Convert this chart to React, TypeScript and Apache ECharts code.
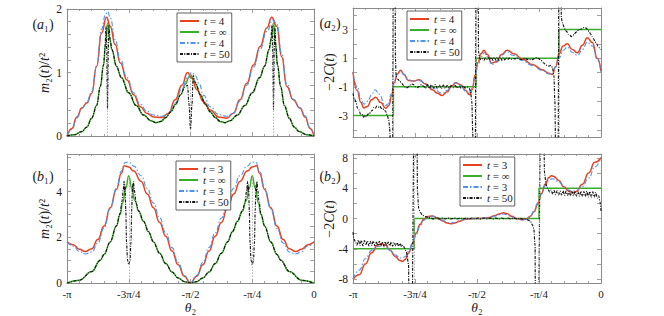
import React, { useEffect, useRef } from "react";
import * as echarts from "echarts";

type Pt = [number, number];

const SERIF = "'Liberation Serif', 'Times New Roman', 'DejaVu Serif', serif";
const TEXT = "#1a1a1a";
const FRAME = "#8a8a8a";

// x in units of pi
const X_TICK_VALUES = [-1, -0.75, -0.5, -0.25, 0];
const X_TICK_LABELS = ["-π", "-3π/4", "-π/2", "-π/4", "0"];

const A1_Y_LABELS = [0, 1, 2];
const A1_Y_TICKS = [0, 0.2, 0.4, 0.6, 0.8, 1, 1.2, 1.4, 1.6, 1.8, 2];
const A2_Y_LABELS = [-3, -1, 1, 3];
const A2_Y_TICKS = [-4, -3, -2, -1, 0, 1, 2, 3, 4];
const B1_Y_LABELS = [0, 2, 4];
const B1_Y_TICKS = [0, 0.5, 1, 1.5, 2, 2.5, 3, 3.5, 4, 4.5, 5, 5.5];
const B2_Y_LABELS = [-8, -4, 0, 4, 8];
const B2_Y_TICKS = [-8, -6, -4, -2, 0, 2, 4, 6, 8];

const LEGEND_A = ["{i|t} = 4", "{i|t} = ∞", "{i|t} = 4", "{i|t} = 50"];
const LEGEND_B = ["{i|t} = 3", "{i|t} = ∞", "{i|t} = 3", "{i|t} = 50"];

// ---------- panel a1 ----------
const A1_RED: Pt[] = [[-1,0],[-0.98,0.12],[-0.96,0.3],[-0.94,0.44],[-0.92,0.52],[-0.9,0.67],[-0.88,1.1],[-0.86,1.62],[-0.84,1.87],[-0.825,1.73],[-0.805,1.44],[-0.784,1.15],[-0.757,0.88],[-0.73,0.65],[-0.703,0.46],[-0.677,0.36],[-0.65,0.3],[-0.616,0.29],[-0.589,0.36],[-0.562,0.57],[-0.535,0.8],[-0.512,1.0],[-0.495,0.91],[-0.474,0.73],[-0.447,0.54],[-0.42,0.41],[-0.387,0.3],[-0.353,0.28],[-0.326,0.36],[-0.3,0.57],[-0.272,0.83],[-0.245,1.12],[-0.218,1.41],[-0.191,1.7],[-0.171,1.87],[-0.151,1.73],[-0.131,1.25],[-0.11,0.78],[-0.084,0.57],[-0.057,0.44],[-0.036,0.3],[-0.016,0.12],[0,0]];
const A1_GREEN: Pt[] = [[-1,0],[-0.97,0.02],[-0.94,0.07],[-0.92,0.14],[-0.9,0.28],[-0.88,0.48],[-0.865,0.78],[-0.852,1.12],[-0.843,1.48],[-0.836,1.78],[-0.828,1.55],[-0.818,1.36],[-0.8,1.1],[-0.78,0.92],[-0.75,0.68],[-0.72,0.48],[-0.69,0.33],[-0.66,0.24],[-0.64,0.21],[-0.62,0.23],[-0.6,0.29],[-0.58,0.38],[-0.56,0.5],[-0.54,0.65],[-0.52,0.82],[-0.507,0.92],[-0.5,0.97],[-0.493,0.92],[-0.48,0.82],[-0.46,0.65],[-0.44,0.5],[-0.42,0.38],[-0.4,0.29],[-0.38,0.23],[-0.36,0.21],[-0.34,0.24],[-0.31,0.33],[-0.28,0.48],[-0.25,0.68],[-0.22,0.92],[-0.2,1.1],[-0.182,1.36],[-0.172,1.55],[-0.164,1.78],[-0.157,1.48],[-0.148,1.12],[-0.135,0.78],[-0.12,0.48],[-0.1,0.28],[-0.08,0.14],[-0.06,0.07],[-0.03,0.02],[0,0]];
const A1_BLUE: Pt[] = [[-1,0],[-0.98,0.1],[-0.96,0.28],[-0.94,0.43],[-0.92,0.53],[-0.9,0.7],[-0.88,1.1],[-0.86,1.68],[-0.845,1.9],[-0.835,1.96],[-0.825,1.86],[-0.805,1.52],[-0.784,1.2],[-0.757,0.92],[-0.73,0.68],[-0.703,0.5],[-0.677,0.39],[-0.65,0.33],[-0.616,0.31],[-0.589,0.36],[-0.562,0.52],[-0.535,0.74],[-0.512,0.92],[-0.495,1.0],[-0.48,0.95],[-0.465,0.82],[-0.447,0.64],[-0.42,0.46],[-0.387,0.34],[-0.353,0.31],[-0.326,0.36],[-0.3,0.55],[-0.272,0.8],[-0.245,1.08],[-0.218,1.37],[-0.191,1.65],[-0.166,1.83],[-0.15,1.76],[-0.131,1.3],[-0.11,0.82],[-0.084,0.58],[-0.057,0.45],[-0.036,0.32],[-0.016,0.13],[0,0]];
const A1_BLACK: Pt[] = [[-1,0],[-0.97,0.02],[-0.94,0.07],[-0.92,0.14],[-0.9,0.28],[-0.88,0.48],[-0.865,0.78],[-0.852,1.12],[-0.846,1.4],[-0.842,1.72],[-0.839,1.35],[-0.837,0.7],[-0.836,0.42],[-0.835,0.7],[-0.833,1.35],[-0.83,1.74],[-0.825,1.5],[-0.818,1.36],[-0.8,1.1],[-0.78,0.92],[-0.75,0.68],[-0.72,0.48],[-0.69,0.33],[-0.66,0.24],[-0.64,0.21],[-0.62,0.23],[-0.6,0.29],[-0.58,0.38],[-0.56,0.5],[-0.54,0.65],[-0.525,0.76],[-0.512,0.8],[-0.506,0.5],[-0.5,0.1],[-0.494,0.5],[-0.489,0.95],[-0.48,0.84],[-0.46,0.65],[-0.44,0.5],[-0.42,0.38],[-0.4,0.29],[-0.38,0.23],[-0.36,0.21],[-0.34,0.24],[-0.31,0.33],[-0.28,0.48],[-0.25,0.68],[-0.22,0.92],[-0.2,1.1],[-0.182,1.36],[-0.175,1.5],[-0.17,1.74],[-0.167,1.35],[-0.165,0.7],[-0.164,0.42],[-0.163,0.7],[-0.161,1.35],[-0.158,1.72],[-0.154,1.4],[-0.148,1.12],[-0.135,0.78],[-0.12,0.48],[-0.1,0.28],[-0.08,0.14],[-0.06,0.07],[-0.03,0.02],[0,0]];
const A1_GUIDES: Pt[] = [[-0.836,1.78],[-0.5,0.97],[-0.164,1.78]];

// ---------- panel a2 ----------
const A2_RED: Pt[] = [[-1,0.02],[-0.983,-1.26],[-0.969,-2.07],[-0.956,-2.47],[-0.942,-2.37],[-0.925,-1.9],[-0.909,-1.72],[-0.888,-2.1],[-0.868,-2.5],[-0.855,-2.3],[-0.844,-1.6],[-0.833,-0.7],[-0.821,-0.1],[-0.808,0.15],[-0.794,-0.15],[-0.777,-0.55],[-0.754,-0.6],[-0.734,-0.5],[-0.707,-0.8],[-0.68,-1.2],[-0.66,-1.45],[-0.64,-1.6],[-0.62,-1.35],[-0.602,-0.95],[-0.586,-0.72],[-0.566,-0.85],[-0.546,-1.25],[-0.53,-1.55],[-0.519,-1.2],[-0.508,-0.2],[-0.496,0.7],[-0.484,1.3],[-0.472,1.55],[-0.458,1.25],[-0.441,0.65],[-0.422,0.75],[-0.401,1.25],[-0.378,1.55],[-0.351,1.3],[-0.317,0.95],[-0.277,0.55],[-0.237,0.2],[-0.21,-0.05],[-0.196,-0.14],[-0.183,0.4],[-0.169,1.3],[-0.153,1.85],[-0.136,2.0],[-0.116,1.6],[-0.095,1.37],[-0.075,1.9],[-0.055,2.42],[-0.035,2.1],[-0.015,1.0],[0,0.1]];
const A2_GREEN: Pt[] = [[-1,-3],[-0.837,-3],[-0.837,-1],[-0.503,-1],[-0.503,1],[-0.169,1],[-0.169,3],[0,3]];
const A2_BLUE: Pt[] = [[-1,0.05],[-0.983,-1.0],[-0.969,-1.8],[-0.956,-2.2],[-0.94,-2.0],[-0.925,-1.55],[-0.911,-1.2],[-0.895,-1.5],[-0.87,-2.3],[-0.858,-2.2],[-0.846,-1.5],[-0.834,-0.6],[-0.822,-0.1],[-0.81,0.1],[-0.796,-0.1],[-0.779,-0.5],[-0.757,-0.6],[-0.734,-0.55],[-0.707,-0.8],[-0.68,-1.1],[-0.64,-1.45],[-0.62,-1.25],[-0.6,-0.9],[-0.584,-0.72],[-0.566,-0.9],[-0.546,-1.3],[-0.532,-1.45],[-0.52,-1.1],[-0.508,-0.3],[-0.496,0.5],[-0.484,1.1],[-0.47,1.4],[-0.458,1.1],[-0.44,0.55],[-0.421,0.7],[-0.4,1.2],[-0.38,1.45],[-0.355,1.2],[-0.32,0.85],[-0.277,0.5],[-0.237,0.15],[-0.21,-0.1],[-0.196,-0.05],[-0.183,0.4],[-0.169,1.0],[-0.153,1.55],[-0.136,1.77],[-0.116,1.4],[-0.095,1.19],[-0.075,1.6],[-0.055,2.12],[-0.035,1.85],[-0.015,0.9],[0,0.02]];
const A2_BLACK: Pt[] = [[-1,-1.45],[-0.994,-1.85],[-0.988,-2.05],[-0.982,-2.5],[-0.976,-2.6],[-0.97,-2.9],[-0.964,-2.9],[-0.958,-3.12],[-0.952,-3.0],[-0.946,-3.1],[-0.94,-2.9],[-0.934,-2.9],[-0.928,-2.7],[-0.922,-2.65],[-0.916,-2.45],[-0.91,-2.5],[-0.904,-2.35],[-0.898,-2.42],[-0.892,-2.35],[-0.886,-2.5],[-0.88,-2.5],[-0.874,-2.65],[-0.868,-2.7],[-0.862,-3.0],[-0.856,-3.3],[-0.852,-3.9],[-0.849,-6],[-0.846,-30],[-0.832,30],[-0.829,1.0],[-0.826,-0.25],[-0.82,-0.45],[-0.812,-0.6],[-0.804,-0.75],[-0.796,-0.9],[-0.788,-1.05],[-0.78,-1.05],[-0.772,-0.9],[-0.764,-0.8],[-0.756,-0.85],[-0.748,-1.0],[-0.74,-1.05],[-0.732,-0.95],[-0.724,-0.85],[-0.716,-0.95],[-0.708,-1.1],[-0.7,-0.85],[-0.692,-1.1],[-0.684,-0.85],[-0.676,-1.1],[-0.668,-0.85],[-0.66,-1.12],[-0.652,-0.88],[-0.644,-1.12],[-0.636,-0.88],[-0.628,-1.1],[-0.62,-0.9],[-0.612,-1.08],[-0.604,-0.92],[-0.596,-1.05],[-0.588,-0.92],[-0.58,-1.08],[-0.572,-0.95],[-0.564,-1.1],[-0.556,-0.95],[-0.548,-1.08],[-0.54,-1.0],[-0.532,-1.1],[-0.526,-1.3],[-0.521,-2.0],[-0.517,-4.2],[-0.514,-30],[-0.497,30],[-0.494,1.5],[-0.49,1.0],[-0.484,0.9],[-0.478,0.95],[-0.472,0.85],[-0.466,1.0],[-0.46,0.92],[-0.454,1.05],[-0.448,0.9],[-0.442,1.05],[-0.436,0.85],[-0.43,1.05],[-0.424,0.85],[-0.418,1.05],[-0.412,0.85],[-0.406,1.05],[-0.4,0.85],[-0.394,1.05],[-0.388,0.87],[-0.382,1.03],[-0.376,0.9],[-0.37,1.0],[-0.362,0.92],[-0.354,0.98],[-0.346,0.95],[-0.338,1.0],[-0.33,0.95],[-0.322,0.9],[-0.314,0.95],[-0.306,1.0],[-0.298,0.92],[-0.29,0.95],[-0.282,0.88],[-0.274,0.92],[-0.266,1.0],[-0.258,1.05],[-0.25,0.95],[-0.242,0.85],[-0.234,0.7],[-0.226,0.6],[-0.218,0.5],[-0.21,0.45],[-0.202,0.5],[-0.196,0.35],[-0.19,-0.2],[-0.186,-2.0],[-0.183,-5.5],[-0.18,-30],[-0.163,30],[-0.16,3.8],[-0.155,3.45],[-0.15,3.2],[-0.144,2.95],[-0.138,2.85],[-0.132,2.65],[-0.126,2.6],[-0.12,2.5],[-0.114,2.6],[-0.108,2.65],[-0.102,2.8],[-0.096,2.85],[-0.09,3.0],[-0.084,3.0],[-0.078,3.05],[-0.072,3.12],[-0.066,3.15],[-0.06,3.1],[-0.054,3.0],[-0.048,2.85],[-0.042,2.7],[-0.036,2.5],[-0.03,2.35],[-0.024,2.15],[-0.018,2.0],[-0.012,1.85],[-0.006,1.72],[0,1.6]];
const A2_GUIDES: number[] = [-0.837, -0.503, -0.169];

// ---------- panel b1 ----------
const B1_RED: Pt[] = [[-1,1.8],[-0.975,1.68],[-0.95,1.48],[-0.926,1.38],[-0.9,1.5],[-0.875,1.9],[-0.85,2.5],[-0.825,3.3],[-0.8,4.1],[-0.78,4.8],[-0.768,5.13],[-0.75,5.08],[-0.73,4.9],[-0.7,4.45],[-0.675,3.9],[-0.65,3.3],[-0.625,2.65],[-0.6,2.05],[-0.575,1.4],[-0.55,0.8],[-0.525,0.3],[-0.5,0],[-0.475,0.3],[-0.45,0.8],[-0.425,1.4],[-0.4,2.05],[-0.375,2.65],[-0.35,3.3],[-0.325,3.9],[-0.3,4.45],[-0.27,4.9],[-0.25,5.08],[-0.232,5.13],[-0.22,4.8],[-0.2,4.1],[-0.175,3.3],[-0.15,2.5],[-0.125,1.9],[-0.1,1.5],[-0.074,1.38],[-0.05,1.48],[-0.025,1.68],[0,1.8]];
const B1_GREEN: Pt[] = [[-1,0],[-0.95,0.12],[-0.9,0.5],[-0.865,1.0],[-0.85,1.25],[-0.825,1.8],[-0.8,2.5],[-0.785,3.0],[-0.775,3.5],[-0.762,4.15],[-0.75,4.7],[-0.738,4.15],[-0.725,3.6],[-0.71,3.15],[-0.69,2.7],[-0.67,2.25],[-0.65,1.8],[-0.625,1.3],[-0.6,0.85],[-0.575,0.48],[-0.55,0.22],[-0.525,0.06],[-0.5,0],[-0.475,0.06],[-0.45,0.22],[-0.425,0.48],[-0.4,0.85],[-0.375,1.3],[-0.35,1.8],[-0.33,2.25],[-0.31,2.7],[-0.29,3.15],[-0.275,3.6],[-0.262,4.15],[-0.25,4.7],[-0.238,4.15],[-0.225,3.5],[-0.215,3.0],[-0.2,2.5],[-0.175,1.8],[-0.15,1.25],[-0.135,1.0],[-0.1,0.5],[-0.05,0.12],[0,0]];
const B1_BLUE: Pt[] = [[-1,1.8],[-0.975,1.62],[-0.95,1.38],[-0.926,1.27],[-0.9,1.36],[-0.875,1.75],[-0.85,2.4],[-0.825,3.25],[-0.8,4.15],[-0.78,4.9],[-0.765,5.28],[-0.75,5.3],[-0.73,5.12],[-0.7,4.7],[-0.675,4.15],[-0.65,3.5],[-0.625,2.85],[-0.6,2.2],[-0.575,1.55],[-0.55,0.9],[-0.525,0.33],[-0.5,0],[-0.475,0.33],[-0.45,0.9],[-0.425,1.55],[-0.4,2.2],[-0.375,2.85],[-0.35,3.5],[-0.325,4.15],[-0.3,4.7],[-0.27,5.12],[-0.25,5.3],[-0.235,5.28],[-0.22,4.9],[-0.2,4.15],[-0.175,3.25],[-0.15,2.4],[-0.125,1.75],[-0.1,1.36],[-0.074,1.27],[-0.05,1.38],[-0.025,1.62],[0,1.8]];
const B1_BLACK: Pt[] = [[-1,0],[-0.95,0.12],[-0.9,0.5],[-0.865,1.0],[-0.85,1.25],[-0.825,1.8],[-0.8,2.5],[-0.785,3.05],[-0.777,3.6],[-0.772,4.1],[-0.769,4.45],[-0.767,4.0],[-0.765,4.3],[-0.762,3.2],[-0.759,1.8],[-0.755,1.0],[-0.75,0.8],[-0.745,1.0],[-0.741,1.8],[-0.738,3.2],[-0.735,4.3],[-0.733,4.0],[-0.731,4.45],[-0.728,4.1],[-0.72,3.5],[-0.71,3.15],[-0.69,2.7],[-0.67,2.25],[-0.65,1.8],[-0.625,1.3],[-0.6,0.85],[-0.575,0.48],[-0.55,0.22],[-0.525,0.06],[-0.5,0],[-0.475,0.06],[-0.45,0.22],[-0.425,0.48],[-0.4,0.85],[-0.375,1.3],[-0.35,1.8],[-0.33,2.25],[-0.31,2.7],[-0.29,3.15],[-0.28,3.5],[-0.272,4.1],[-0.269,4.45],[-0.267,4.0],[-0.265,4.3],[-0.262,3.2],[-0.259,1.8],[-0.255,1.0],[-0.25,0.8],[-0.245,1.0],[-0.241,1.8],[-0.238,3.2],[-0.235,4.3],[-0.233,4.0],[-0.231,4.45],[-0.228,4.1],[-0.223,3.6],[-0.215,3.05],[-0.2,2.5],[-0.175,1.8],[-0.15,1.25],[-0.135,1.0],[-0.1,0.5],[-0.05,0.12],[0,0]];
const B1_GUIDES: Pt[] = [[-0.75,4.7],[-0.25,4.7]];

// ---------- panel b2 ----------
const B2_RED: Pt[] = [[-1,-8],[-0.975,-7.4],[-0.95,-6.0],[-0.925,-4.5],[-0.9,-3.5],[-0.885,-3.3],[-0.87,-3.5],[-0.85,-4.2],[-0.83,-5.0],[-0.81,-5.55],[-0.8,-5.65],[-0.79,-5.4],[-0.775,-4.5],[-0.76,-3.3],[-0.745,-1.9],[-0.73,-0.8],[-0.715,-0.1],[-0.7,0.25],[-0.68,0.33],[-0.66,0.1],[-0.64,-0.3],[-0.62,-0.6],[-0.606,-0.7],[-0.59,-0.6],[-0.57,-0.35],[-0.55,-0.12],[-0.525,-0.02],[-0.5,0],[-0.475,0.02],[-0.45,0.12],[-0.43,0.35],[-0.41,0.6],[-0.394,0.75],[-0.38,0.65],[-0.36,0.3],[-0.34,0.0],[-0.32,-0.15],[-0.3,-0.05],[-0.285,0.3],[-0.27,0.9],[-0.255,1.9],[-0.24,3.3],[-0.225,4.5],[-0.21,5.4],[-0.2,5.65],[-0.19,5.55],[-0.17,5.0],[-0.15,4.2],[-0.13,3.6],[-0.115,3.4],[-0.1,3.55],[-0.075,4.5],[-0.05,6.0],[-0.025,7.4],[0,8]];
const B2_GREEN: Pt[] = [[-1,-4],[-0.753,-4],[-0.753,0],[-0.25,0],[-0.25,4],[0,4]];
const B2_BLUE: Pt[] = [[-1,-8],[-0.975,-6.8],[-0.95,-5.3],[-0.925,-4.2],[-0.9,-3.7],[-0.885,-3.6],[-0.87,-3.75],[-0.85,-4.2],[-0.83,-4.8],[-0.81,-5.2],[-0.8,-5.22],[-0.79,-5.0],[-0.775,-4.3],[-0.76,-3.2],[-0.745,-2.1],[-0.73,-1.0],[-0.715,-0.25],[-0.7,0.15],[-0.68,0.3],[-0.66,0.12],[-0.64,-0.2],[-0.62,-0.5],[-0.606,-0.6],[-0.59,-0.5],[-0.57,-0.3],[-0.55,-0.1],[-0.5,0],[-0.45,0.1],[-0.43,0.3],[-0.41,0.5],[-0.394,0.6],[-0.38,0.5],[-0.36,0.2],[-0.34,-0.05],[-0.32,-0.2],[-0.3,-0.1],[-0.285,0.25],[-0.27,1.0],[-0.255,2.1],[-0.24,3.2],[-0.225,4.3],[-0.21,5.0],[-0.2,5.22],[-0.19,5.2],[-0.17,4.8],[-0.15,4.2],[-0.13,3.75],[-0.115,3.6],[-0.1,3.7],[-0.075,4.2],[-0.05,5.3],[-0.025,6.8],[0,8]];
const B2_BLACK: Pt[] = [[-1,-1.8],[-0.996,-2.7],[-0.99,-3.1],[-0.984,-3.5],[-0.978,-2.85],[-0.972,-3.55],[-0.966,-2.9],[-0.96,-3.6],[-0.954,-2.9],[-0.948,-3.5],[-0.942,-2.95],[-0.936,-3.6],[-0.93,-3.0],[-0.924,-3.55],[-0.918,-2.95],[-0.912,-3.6],[-0.906,-3.05],[-0.9,-3.55],[-0.894,-3.0],[-0.888,-3.6],[-0.882,-3.1],[-0.876,-3.6],[-0.87,-3.05],[-0.864,-3.65],[-0.858,-3.1],[-0.852,-3.6],[-0.846,-3.1],[-0.84,-3.65],[-0.834,-3.15],[-0.828,-3.6],[-0.822,-3.2],[-0.816,-3.65],[-0.81,-3.3],[-0.804,-3.7],[-0.798,-3.5],[-0.792,-3.9],[-0.785,-4.4],[-0.776,-6],[-0.771,-40],[-0.745,40],[-0.74,3.5],[-0.735,1.3],[-0.729,0.8],[-0.72,0.45],[-0.71,0.3],[-0.7,0.15],[-0.688,0.08],[-0.676,-0.04],[-0.664,0.07],[-0.652,-0.05],[-0.64,0.06],[-0.628,-0.06],[-0.616,0.05],[-0.604,-0.05],[-0.592,0.06],[-0.58,-0.05],[-0.568,0.05],[-0.556,-0.06],[-0.544,0.05],[-0.532,-0.05],[-0.52,0.06],[-0.508,-0.04],[-0.496,0.05],[-0.484,-0.05],[-0.472,0.06],[-0.46,-0.05],[-0.448,0.05],[-0.436,-0.06],[-0.424,0.05],[-0.412,-0.05],[-0.4,0.06],[-0.388,-0.05],[-0.376,0.05],[-0.364,-0.06],[-0.352,0.05],[-0.34,-0.05],[-0.328,0.04],[-0.316,-0.07],[-0.304,-0.1],[-0.295,-0.18],[-0.285,-0.35],[-0.277,-0.8],[-0.271,-1.3],[-0.266,-3.5],[-0.262,-40],[-0.234,40],[-0.228,6],[-0.221,4.4],[-0.214,3.9],[-0.207,3.5],[-0.201,3.75],[-0.195,3.2],[-0.189,3.7],[-0.183,3.15],[-0.177,3.65],[-0.171,3.1],[-0.165,3.6],[-0.159,3.1],[-0.153,3.65],[-0.147,3.05],[-0.141,3.6],[-0.135,3.05],[-0.129,3.6],[-0.123,3.0],[-0.117,3.55],[-0.111,3.0],[-0.105,3.6],[-0.099,2.95],[-0.093,3.55],[-0.087,2.95],[-0.081,3.6],[-0.075,2.9],[-0.069,3.55],[-0.063,2.9],[-0.057,3.6],[-0.051,2.85],[-0.045,3.55],[-0.039,2.85],[-0.033,3.5],[-0.027,2.8],[-0.021,3.45],[-0.015,2.7],[-0.009,3.0],[-0.004,2.2],[0,1.0]];
const B2_GUIDES: number[] = [-0.753, -0.25];

const COLORS = { red: "#e8411f", green: "#3aad2b", blue: "#4d94f0", black: "#151515" };

const PANELS = [
  { id: "a1", grid: { left: 67, top: 9, width: 247, height: 127 }, yMin: 0, yMax: 2, yLabels: A1_Y_LABELS, yTicks: A1_Y_TICKS, showX: false,
    legend: { left: 177, top: 13 }, legendText: LEGEND_A, red: A1_RED, green: A1_GREEN, blue: A1_BLUE, black: A1_BLACK, peakGuides: A1_GUIDES, fullGuides: [] as number[] },
  { id: "a2", grid: { left: 353, top: 8, width: 248, height: 129 }, yMin: -4.5, yMax: 4.5, yLabels: A2_Y_LABELS, yTicks: A2_Y_TICKS, showX: false,
    legend: { left: 407, top: 11 }, legendText: LEGEND_A, red: A2_RED, green: A2_GREEN, blue: A2_BLUE, black: A2_BLACK, peakGuides: [] as Pt[], fullGuides: A2_GUIDES },
  { id: "b1", grid: { left: 67, top: 154, width: 247, height: 129 }, yMin: 0, yMax: 5.65, yLabels: B1_Y_LABELS, yTicks: B1_Y_TICKS, showX: true,
    legend: { left: 176, top: 161 }, legendText: LEGEND_B, red: B1_RED, green: B1_GREEN, blue: B1_BLUE, black: B1_BLACK, peakGuides: B1_GUIDES, fullGuides: [] as number[] },
  { id: "b2", grid: { left: 353, top: 154, width: 248, height: 129 }, yMin: -8.5, yMax: 8.5, yLabels: B2_Y_LABELS, yTicks: B2_Y_TICKS, showX: true,
    legend: { left: 460, top: 157 }, legendText: LEGEND_B, red: B2_RED, green: B2_GREEN, blue: B2_BLUE, black: B2_BLACK, peakGuides: [] as Pt[], fullGuides: B2_GUIDES },
];

const KINDS = ["red", "green", "blue", "black"] as const;

function fmtX(v: number) {
  const i = X_TICK_VALUES.findIndex((t) => Math.abs(t - v) < 1e-6);
  return i >= 0 ? X_TICK_LABELS[i] : "";
}

function buildOption() {
  const grids: any[] = [];
  const xAxes: any[] = [];
  const yAxes: any[] = [];
  const series: any[] = [];
  const legends: any[] = [];
  const labelMap: Record<string, string> = {};

  PANELS.forEach((p) => {
    grids.push({ ...p.grid, show: false, containLabel: false });
  });
  const mkX = (i: number, pos: string, show: boolean) => ({
    type: "value", gridIndex: i, position: pos, min: -1, max: 0, interval: 0.25,
    axisLine: { show: true, onZero: false, lineStyle: { color: FRAME, width: 1 } },
    axisTick: { show: true, inside: true, length: 4, lineStyle: { color: FRAME, width: 0.8 } },
    minorTick: { show: true, splitNumber: 5, length: 2, lineStyle: { color: FRAME, width: 0.8 } },
    splitLine: { show: false }, minorSplitLine: { show: false },
    axisLabel: { show, margin: 5, fontFamily: SERIF, fontSize: 11, color: TEXT, formatter: fmtX },
  });
  const mkY = (i: number, pos: string, p: any) => ({
    type: "value", gridIndex: i, position: pos, min: p.yMin, max: p.yMax,
    axisLine: { show: true, onZero: false, lineStyle: { color: FRAME, width: 1 } },
    axisTick: { show: true, inside: true, length: 4, customValues: p.yTicks, lineStyle: { color: FRAME, width: 0.8 } },
    splitLine: { show: false },
    axisLabel: { show: pos === "left", customValues: p.yLabels, margin: 5, fontFamily: SERIF, fontSize: 11.5, color: TEXT, formatter: (v: number) => String(v) },
  });
  PANELS.forEach((p, i) => { xAxes.push(mkX(i, "bottom", p.showX)); yAxes.push(mkY(i, "left", p)); });
  PANELS.forEach((p, i) => { xAxes.push(mkX(i, "top", false)); yAxes.push(mkY(i, "right", p)); });

  PANELS.forEach((p, i) => {
    const names: string[] = [];
    const order = ["green", "red", "blue", "black"];
    order.forEach((k) => {
      const name = `${p.id}-${k}`;
      const li = KINDS.indexOf(k as any);
      labelMap[name] = p.legendText[li];
      const isStep = k === "green" && (p.id === "a2" || p.id === "b2");
      const ls: any =
        k === "red" ? { color: COLORS.red, width: 1.5 } :
        k === "green" ? { color: COLORS.green, width: 1.5 } :
        k === "blue" ? { color: COLORS.blue, width: 1.1, type: [5, 2, 1.5, 2] } :
        { color: COLORS.black, width: 1.15, type: [3, 1.3, 1, 1.3] };
      const s: any = {
        name, type: "line", xAxisIndex: i, yAxisIndex: i, data: (p as any)[k],
        symbol: "none", showSymbol: false, smooth: isStep ? false : (k === "black" ? 0.3 : 0.5), smoothMonotone: "x",
        lineStyle: ls, itemStyle: { color: ls.color }, silent: true, animation: false,
        emphasis: { disabled: true }, clip: true,
      };
      if (k === "green") {
        const mk: any[] = [];
        p.peakGuides.forEach(([x, y]) => mk.push([{ coord: [x, p.yMin] }, { coord: [x, y] }]));
        p.fullGuides.forEach((x) => mk.push([{ coord: [x, p.yMin] }, { coord: [x, p.yMax] }]));
        if (mk.length) {
          s.markLine = { silent: true, symbol: "none", animation: false, label: { show: false },
            lineStyle: { color: "#a0a0a0", type: [1.5, 1.5], width: 0.8 }, data: mk };
        }
      }
      series.push(s);
    });
    KINDS.forEach((k) => names.push(`${p.id}-${k}`));
    legends.push({
      show: true, orient: "vertical", left: p.legend.left, top: p.legend.top, data: names,
      formatter: (n: string) => labelMap[n], selectedMode: false,
      itemWidth: 19, itemHeight: 8, itemGap: 0, padding: [2.5, 2, 2.5, 2],
      borderColor: "#3a3a3a", borderWidth: 0.8, backgroundColor: "#ffffff",
      itemStyle: { opacity: 0, borderWidth: 0 },
      textStyle: { fontFamily: SERIF, fontSize: 11, color: TEXT, lineHeight: 11,
        rich: { i: { fontFamily: SERIF, fontSize: 11, fontStyle: "italic", color: TEXT, lineHeight: 11 } } },
    });
  });

  const txt = (x: number, y: number, text: string, rot: number, size = 14) => ({
    type: "text", x, y, rotation: rot, silent: true,
    style: { text, fontFamily: SERIF, fontSize: size, fill: TEXT, align: "center", verticalAlign: "middle",
      textAlign: "center", textVerticalAlign: "middle",
      rich: { i: { fontFamily: SERIF, fontStyle: "italic", fontSize: size, fill: TEXT, color: TEXT } } },
  });
  const graphic = [
    txt(44, 73, "{i|m}₂({i|t})/{i|t}²", Math.PI / 2),
    txt(44, 219, "{i|m}₂({i|t})/{i|t}²", Math.PI / 2),
    txt(329, 72, "−2{i|C}({i|t})", Math.PI / 2),
    txt(329, 219, "−2{i|C}({i|t})", Math.PI / 2),
    txt(43, 24, "({i|a}₁)", 0),
    txt(330, 23, "({i|a}₂)", 0),
    txt(43, 176, "({i|b}₁)", 0),
    txt(330, 176, "({i|b}₂)", 0),
    txt(190.5, 307.5, "{i|θ}₂", 0, 13.5),
    txt(477, 307.5, "{i|θ}₂", 0, 13.5),
  ];

  return {
    animation: false,
    backgroundColor: "#ffffff",
    grid: grids, xAxis: xAxes, yAxis: yAxes, series, legend: legends, graphic,
  };
}

export default function App() {
  const ref = useRef<HTMLDivElement>(null);
  useEffect(() => {
    if (!ref.current) return;
    const chart = echarts.init(ref.current, null, { renderer: "svg" });
    chart.setOption(buildOption() as any);
    return () => chart.dispose();
  }, []);
  return <div ref={ref} style={{ position: "absolute", left: 0, top: 0, width: 664, height: 316, background: "#fff" }} />;
}
